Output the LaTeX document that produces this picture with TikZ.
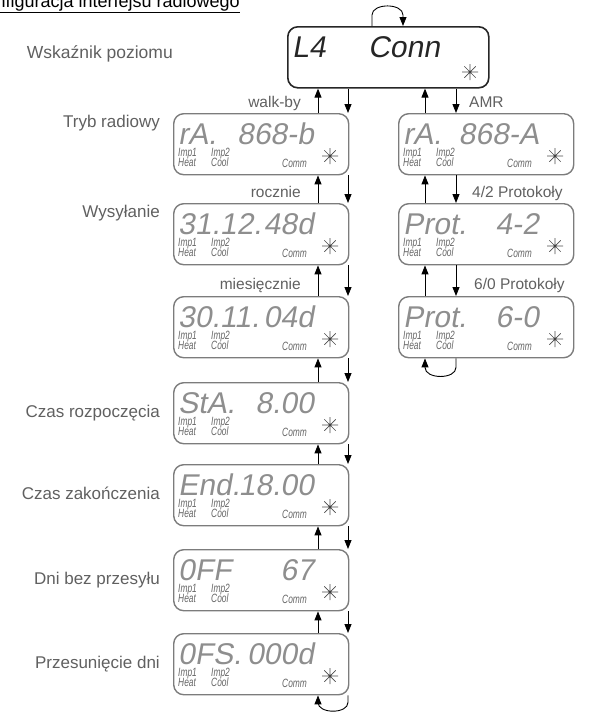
\documentclass[tikz,border=0pt]{standalone}
\usepackage{fontspec}
\setmainfont{Liberation Sans}
\newfontfamily\lcdfont{Liberation Sans}[FakeSlant=0.18]
\newfontfamily\narrowfont{Liberation Sans}[FakeStretch=0.7]
\usetikzlibrary{arrows.meta}
\definecolor{lcdgray}{HTML}{8E8E8E}
\definecolor{boxgray}{HTML}{7C7C7C}
\definecolor{labgray}{HTML}{606060}
\definecolor{smallgray}{HTML}{666666}
\tikzset{
  lcdbox/.style={draw=boxgray, line width=1.4pt, rounded corners=10pt,
    minimum width=175pt, minimum height=61pt, inner sep=0pt},
  topbox/.style={draw=black!85, line width=1.6pt, rounded corners=10pt,
    minimum width=201pt, minimum height=61pt, inner sep=0pt},
  lcdtxt/.style={font=\lcdfont\fontsize{30}{30}\selectfont, text=lcdgray, inner sep=0pt},
  toptxt/.style={font=\lcdfont\fontsize{30}{30}\selectfont, text=black!85, inner sep=0pt},
  smalltxt/.style={font=\narrowfont\itshape\fontsize{12}{12}\selectfont, text=smallgray, inner sep=0pt},
  sidelabel/.style={font=\fontsize{17}{17}\selectfont, text=labgray, inner sep=0pt},
  edgelabel/.style={font=\fontsize{15.5}{15.5}\selectfont, text=labgray, inner sep=0pt},
  titlelabel/.style={font=\fontsize{18}{18}\selectfont, text=black, inner sep=0pt},
  arr/.style={-{Triangle[length=9pt,width=7pt]}, line width=0.9pt, draw=black},
  starline/.style={line width=0.7pt, draw=black!70},
}
\newcommand\lcdstar[1]{%
  \draw[starline] (#1) ++(-8,0) -- ++(16,0)
    (#1) ++(0,-8) -- ++(0,16)
    (#1) ++(-5.7,-5.7) -- ++(11.4,11.4)
    (#1) ++(-5.7,5.7) -- ++(11.4,-11.4);
  \fill[black!75] (#1) circle (1.3pt);
}
\newcommand\lcdpanel[5]{%
  \node[lcdbox, anchor=north west] (#1) at (#2,#3) {};
  \node[lcdtxt, anchor=base west] (#1-a) at ([xshift=5pt, yshift=-31pt]#1.north west) {#4};
  \node[lcdtxt, anchor=base east] (#1-b) at ([xshift=141pt, yshift=-31pt]#1.north west) {#5};
  \node[smalltxt, anchor=base west] (#1-i1) at ([xshift=5pt, yshift=-43pt]#1.north west) {Imp1};
  \node[smalltxt, anchor=base west] (#1-h) at ([xshift=5pt, yshift=-53.5pt]#1.north west) {Heat};
  \node[smalltxt, anchor=base west] (#1-i2) at ([xshift=38pt, yshift=-43pt]#1.north west) {Imp2};
  \node[smalltxt, anchor=base west] (#1-c) at ([xshift=38pt, yshift=-53.5pt]#1.north west) {Cool};
  \node[smalltxt, anchor=base west] (#1-m) at ([xshift=109pt, yshift=-54pt]#1.north west) {Comm};
  \coordinate (#1-s) at ([xshift=157pt, yshift=-43pt]#1.north west);
  \lcdstar{#1-s}
}
\begin{document}
\begin{tikzpicture}[x=1pt,y=-1pt]
\useasboundingbox (0,0) rectangle (596,713);
\clip (0,0) rectangle (596,713);

% title (cut by the page edge)
\node[titlelabel, anchor=base east] (title) at (240,7) {\underline{Konfiguracja interfejsu radiowego}};

% column x positions for the connectors
\coordinate (uL) at (318,0);
\coordinate (dL) at (348,0);
\coordinate (uR) at (425,0);
\coordinate (dR) at (456,0);
\coordinate (lpA) at (372,0);
\coordinate (lpB) at (403,0);

% top display
\node[topbox, anchor=north west] (top) at (287,26) {};
\node[toptxt, anchor=base west] (top-a) at ([xshift=5pt, yshift=-31pt]top.north west) {L4};
\node[toptxt, anchor=base east] (top-b) at ([xshift=153pt, yshift=-31pt]top.north west) {Conn};
\coordinate (top-s) at ([xshift=183pt, yshift=-46pt]top.north west);
\lcdstar{top-s}

% left column
\lcdpanel{b1}{173}{113}{rA.}{868-b}
\lcdpanel{b2}{173}{203}{31.12.}{48d}
\lcdpanel{b3}{173}{296}{30.11.}{04d}
\lcdpanel{b4}{173}{382}{StA.}{8.00}
\lcdpanel{b5}{173}{464}{End.}{18.00}
\lcdpanel{b6}{173}{549}{0FF}{67}
\lcdpanel{b7}{173}{633}{0FS.}{000d}

% right column
\lcdpanel{r1}{398}{113}{rA.}{868-A}
\lcdpanel{r2}{398}{203}{Prot.}{4-2}
\lcdpanel{r3}{398}{296}{Prot.}{6-0}

% side labels
\node[sidelabel, font=\fontsize{17.5}{17.5}\selectfont, anchor=base east] (lab0) at (173,58) {Wskaźnik poziomu};
\node[sidelabel, anchor=base east] (lab1) at (160,127) {Tryb radiowy};
\node[sidelabel, anchor=base east] (lab2) at (160,217) {Wysyłanie};
\node[sidelabel, anchor=base east] (lab4) at (160,417) {Czas rozpoczęcia};
\node[sidelabel, anchor=base east] (lab5) at (160,499) {Czas zakończenia};
\node[sidelabel, anchor=base east] (lab6) at (160,584) {Dni bez przesyłu};
\node[sidelabel, anchor=base east] (lab7) at (160,668) {Przesunięcie dni};

% edge labels
\node[edgelabel, anchor=base east] (e1) at (301,107) {walk-by};
\node[edgelabel, anchor=base west] (e2) at (469,107) {AMR};
\node[edgelabel, anchor=base east] (e3) at (301,197) {rocznie};
\node[edgelabel, anchor=base west] (e4) at (472,197) {4/2 Protokoły};
\node[edgelabel, anchor=base east] (e5) at (301,289) {miesięcznie};
\node[edgelabel, anchor=base west] (e6) at (474,289) {6/0 Protokoły};

% loop on top display
\draw[arr] (top.north -| lpA) -- ++(0,-11) to[out=90,in=90] (lpB |- 0,15) -- (top.north -| lpB);

% connectors, left column
\draw[arr] (b1.north -| uL) -- (top.south -| uL);
\draw[arr] (top.south -| dL) -- (b1.north -| dL);
\foreach \a/\b in {b1/b2,b2/b3,b3/b4,b4/b5,b5/b6,b6/b7}{
  \draw[arr] (\b.north -| uL) -- (\a.south -| uL);
  \draw[arr] (\a.south -| dL) -- (\b.north -| dL);
}
% connectors, right column
\draw[arr] (r1.north -| uR) -- (top.south -| uR);
\draw[arr] (top.south -| dR) -- (r1.north -| dR);
\foreach \a/\b in {r1/r2,r2/r3}{
  \draw[arr] (\b.north -| uR) -- (\a.south -| uR);
  \draw[arr] (\a.south -| dR) -- (\b.north -| dR);
}
% bottom loops
\draw[arr] (b7.south -| dL) -- ++(0,7) to[out=-90,in=-90] ([yshift=-7pt]b7.south -| uL) -- (b7.south -| uL);
\draw[arr] (r3.south -| dR) -- ++(0,9) to[out=-90,in=-90] ([yshift=-9pt]r3.south -| uR) -- (r3.south -| uR);
\end{tikzpicture}
\end{document}
